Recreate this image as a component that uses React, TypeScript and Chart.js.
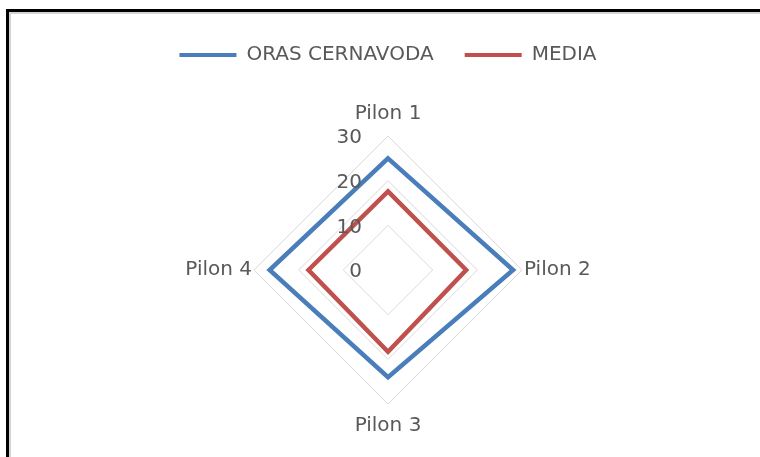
import React, { useEffect, useRef } from "react";
import { Chart, registerables } from "chart.js";

Chart.register(...registerables);

const categories = ["Pilon 1", "Pilon 2", "Pilon 3", "Pilon 4"];
const orasValues = [25, 28, 24, 26.5];
const mediaValues = [17.6, 17.5, 18.3, 17.8];
const seriesNames = ["ORAS CERNAVODA", "MEDIA"];
const tickValues = [0, 10, 20, 30];

const BLUE = "#4A7EBB";
const RED = "#C0504D";
const TEXT = "#595959";
const GRID = "#D9D9D9";
const FONT = "'DejaVu Sans', 'Liberation Sans', sans-serif";

const tickLabelPlugin = {
  id: "tickLabelsLeft",
  afterDatasetsDraw(chart: any) {
    const scale = chart.scales.r;
    const ctx = chart.ctx;
    ctx.save();
    ctx.font = `20px ${FONT}`;
    ctx.fillStyle = TEXT;
    ctx.textAlign = "right";
    ctx.textBaseline = "middle";
    tickValues.forEach((v) => {
      const d = scale.getDistanceFromCenterForValue(v);
      ctx.fillText(String(v), scale.xCenter - 26, scale.yCenter - d + 2);
    });
    ctx.restore();
  },
};

export default function App() {
  const ref = useRef<HTMLCanvasElement | null>(null);
  useEffect(() => {
    if (!ref.current) return;
    const chart = new Chart(ref.current, {
      type: "radar",
      data: {
        labels: categories,
        datasets: [
          {
            label: seriesNames[0],
            data: orasValues,
            borderColor: BLUE,
            backgroundColor: BLUE,
            borderWidth: 4.5,
            fill: false,
            pointRadius: 0,
            pointHoverRadius: 0,
            borderJoinStyle: "miter",
          },
          {
            label: seriesNames[1],
            data: mediaValues,
            borderColor: RED,
            backgroundColor: RED,
            borderWidth: 4.5,
            fill: false,
            pointRadius: 0,
            pointHoverRadius: 0,
            borderJoinStyle: "miter",
          },
        ],
      },
      options: {
        responsive: false,
        animation: false,
        layout: { padding: { top: 14, left: 16, right: 0, bottom: 19 } },
        plugins: {
          tooltip: { enabled: false },
          title: {
            display: true,
            text: " ",
            weight: 500,
            font: { size: 10 },
            padding: { top: 0, bottom: 15 },
          } as any,
          legend: {
            position: "top",
            labels: {
              boxWidth: 57,
              boxHeight: 4,
              padding: 31,
              color: TEXT,
              font: { family: FONT, size: 20 },
              useBorderRadius: true,
              borderRadius: 2,
              generateLabels: (c: any) =>
                c.data.datasets.map((ds: any, i: number) => ({
                  text: ds.label,
                  fillStyle: ds.borderColor,
                  strokeStyle: ds.borderColor,
                  lineWidth: 0,
                  hidden: false,
                  datasetIndex: i,
                  fontColor: TEXT,
                })),
            },
          } as any,
        },
        scales: {
          r: {
            min: 0,
            max: 30,
            ticks: { display: false, stepSize: 10 },
            grid: { color: GRID, lineWidth: 1, circular: false },
            angleLines: { display: false },
            pointLabels: {
              color: TEXT,
              font: { family: FONT, size: 20 },
              padding: (ctx: any) => (ctx.index % 2 === 0 ? 10 : 2),
            },
          },
        },
      },
      plugins: [tickLabelPlugin],
    });
    return () => chart.destroy();
  }, []);

  return (
    <div
      style={{
        position: "fixed",
        left: 0,
        top: 0,
        width: 760,
        height: 457,
        background: "#ffffff",
        overflow: "hidden",
      }}
    >
      <div
        style={{
          position: "absolute",
          left: 6,
          top: 9,
          width: 800,
          height: 500,
          borderTop: "3px solid #000",
          borderLeft: "3px solid #000",
          boxSizing: "border-box",
        }}
      >
        <div
          style={{
            position: "absolute",
            left: 0,
            top: 0,
            width: 800,
            height: 500,
            borderTop: "2px solid #D4D4D4",
            borderLeft: "2px solid #D4D4D4",
            boxSizing: "border-box",
          }}
        />
      </div>
      <canvas
        ref={ref}
        width={760}
        height={457}
        style={{ position: "absolute", left: 0, top: 0 }}
      />
    </div>
  );
}
